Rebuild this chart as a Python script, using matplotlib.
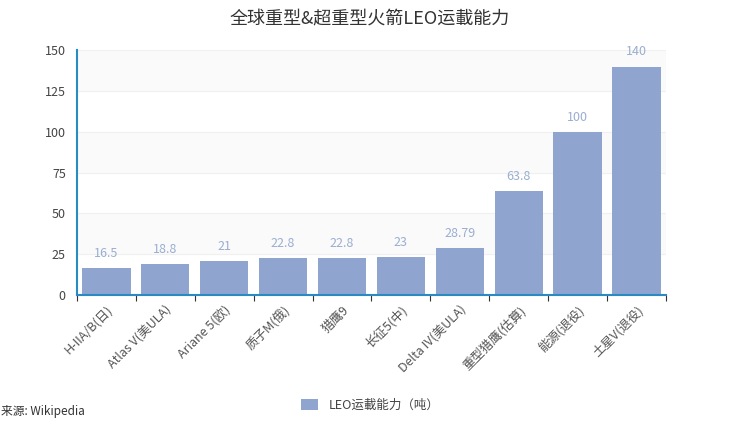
import matplotlib
matplotlib.use("Agg")
import matplotlib.pyplot as plt
import numpy as np

plt.rcParams['font.family'] = ['Noto Sans CJK SC', 'DejaVu Sans']

# data
rockets = ['H-IIA/B(日)', 'Atlas V(美ULA)', 'Ariane 5(欧)', '质子M(俄)', '猎鹰9',
           '长征5(中)', 'Delta IV(美ULA)', '重型猎鹰(估算)', '能源(退役)', '土星V(退役)']
leo = [16.5, 18.8, 21, 22.8, 22.8, 23, 28.79, 63.8, 100, 140]
value_labels = ['16.5', '18.8', '21', '22.8', '22.8', '23', '28.79', '63.8', '100', '140']
yticks = [0, 25, 50, 75, 100, 125, 150]

bar_col = '#8fa5cf'
axis_col = '#2a8ac4'

fig = plt.figure(figsize=(7.4, 4.22), dpi=100)
ax = fig.add_axes([0.104, 0.301, 0.796, 0.58])

x = np.arange(len(rockets))
# faint striped background bands
for i in range(len(yticks) - 1):
    if i % 2 == 1:
        ax.axhspan(yticks[i], yticks[i + 1], color='#fafafa', zorder=0)
for t in yticks[1:]:
    ax.axhline(t, color='#f0f0f0', lw=0.8, zorder=0.5)

ax.bar(x, leo, width=0.82, color=bar_col, zorder=2, label='LEO运載能力（吨）')
for xi, v, s in zip(x, leo, value_labels):
    ax.text(xi, v + 5, s, ha='center', va='bottom', fontsize=9, color='#9aaed0')

ax.set_xlim(-0.5, len(rockets) - 0.5)
ax.set_ylim(0, 150)
ax.set_yticks(yticks)
ax.set_xticks(np.arange(len(rockets) + 1) - 0.5, minor=False)
ax.set_xticklabels([])
ax.set_xticks(x, minor=True)
ax.set_xticklabels(rockets, minor=True, rotation=45, ha='right', rotation_mode='anchor',
                   fontsize=9, color='#555555')
ax.tick_params(axis='x', which='minor', length=0, pad=6)
ax.tick_params(axis='x', which='major', length=4, color='#333333')
ax.tick_params(axis='y', length=0, labelsize=9, labelcolor='#444444', pad=8)

for s in ['top', 'right']:
    ax.spines[s].set_visible(False)
ax.spines['left'].set_color(axis_col)
ax.spines['bottom'].set_color(axis_col)
ax.spines['left'].set_linewidth(1.5)
ax.spines['bottom'].set_linewidth(1.5)

fig.text(0.5, 0.955, '全球重型&超重型火箭LEO运載能力', ha='center', va='center',
         fontsize=13, color='#333333')
fig.legend(loc='center', bbox_to_anchor=(0.5, 0.04), frameon=False, fontsize=9,
           handlelength=1.4, handleheight=1.0, labelcolor='#444444')
fig.text(0.002, 0.025, '来源: Wikipedia', ha='left', va='center', fontsize=8.5,
         color='#333333')

fig.savefig('out.png', dpi=100)
